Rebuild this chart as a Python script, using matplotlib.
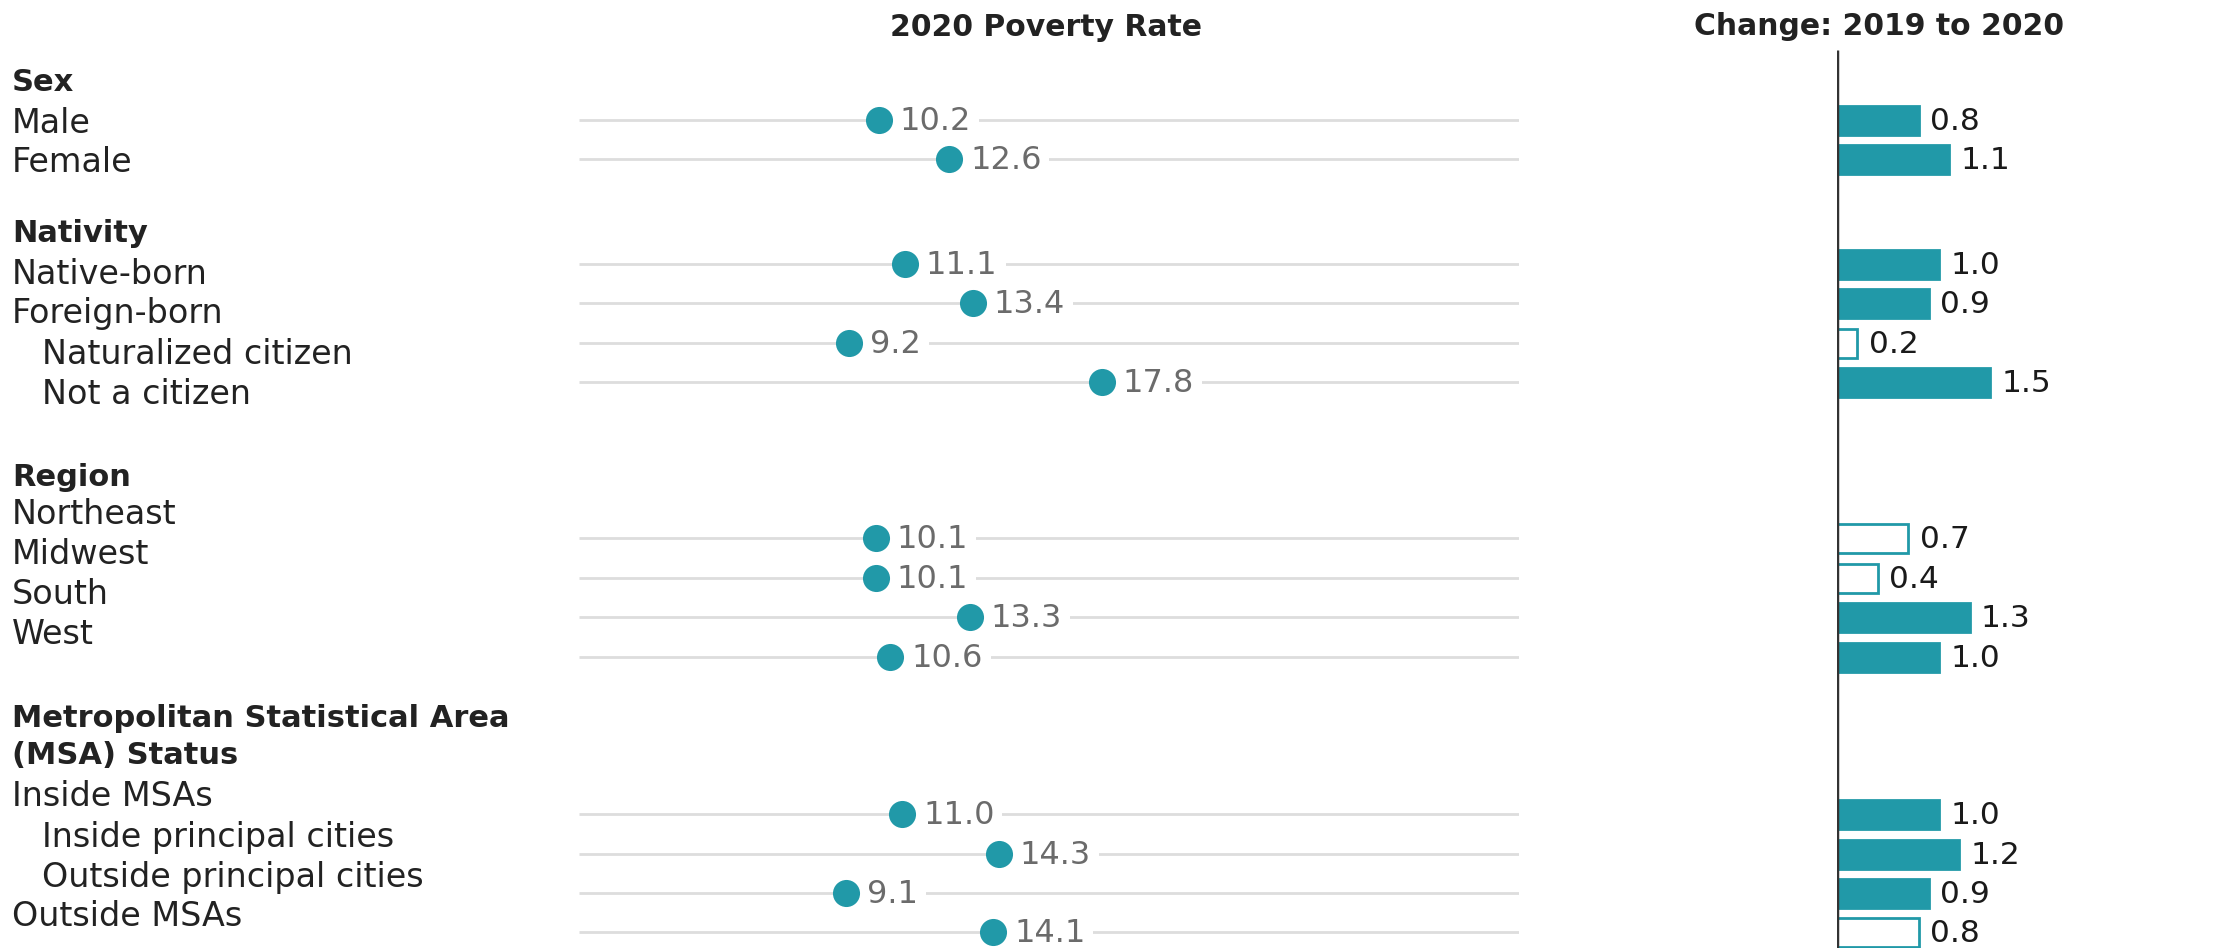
import matplotlib
matplotlib.use("Agg")
import matplotlib.pyplot as plt

plt.rcParams['font.family'] = ['DejaVu Sans']

# data
groups = ['Sex', 'Nativity', 'Region', 'Metropolitan Statistical Area\n(MSA) Status']
labels = ['Male', 'Female',
          'Native-born', 'Foreign-born', 'Naturalized citizen', 'Not a citizen',
          'Northeast', 'Midwest', 'South', 'West',
          'Inside MSAs', 'Inside principal cities', 'Outside principal cities', 'Outside MSAs']
indented = [False, False,
            False, False, True, True,
            False, False, False, False,
            False, True, True, False]
rate_2020 = [10.2, 12.6,
             11.1, 13.4, 9.2, 17.8,
             10.1, 10.1, 13.3, 10.6,
             11.0, 14.3, 9.1, 14.1]
change = [0.8, 1.1,
          1.0, 0.9, 0.2, 1.5,
          0.7, 0.4, 1.3, 1.0,
          1.0, 1.2, 0.9, 0.8]
significant = [True, True,
               True, True, False, True,
               False, False, True, True,
               True, True, True, False]

# layout (pixels from the top)
W, H = 2215, 948
group_y = [82, 233, 477, 737]
label_y = [123, 162, 274, 314, 354, 394, 515, 555, 595, 635, 797, 837, 877, 917]
row_y = [120, 159, 264, 303, 343, 382, 538, 578, 617, 657, 814, 854, 893, 932]

teal = '#2199a8'

fig = plt.figure(figsize=(W / 100, H / 100), dpi=100)

bg = fig.add_axes([0, 0, 1, 1])
bg.set_xlim(0, W)
bg.set_ylim(H, 0)
bg.axis('off')

for g, y in zip(groups, group_y):
    bg.text(12, y, g, fontsize=22, fontweight='bold', va='center', ha='left',
            color='#222222', linespacing=1.35)
for lab, y, ind in zip(labels, label_y, indented):
    bg.text(42 if ind else 12, y, lab, fontsize=24, va='center', ha='left', color='#222222')

bg.text(1046, 27, '2020 Poverty Rate', fontsize=21.5, fontweight='bold', ha='center',
        va='center', color='#222222')
bg.text(1879, 26, 'Change: 2019 to 2020', fontsize=21.5, fontweight='bold', ha='center',
        va='center', color='#222222')

# dot plot
x0, x1 = 579, 1519
ax = fig.add_axes([x0 / W, 0, (x1 - x0) / W, 1])
ax.set_xlim(0, 32)
ax.set_ylim(H, 0)
ax.axis('off')
ax.hlines(row_y, 0, 32, color='#dddddd', lw=2, zorder=1)
ax.plot(rate_2020, row_y, 'o', color=teal, ms=19.5, mew=0, zorder=3)
for v, y in zip(rate_2020, row_y):
    ax.annotate(f'{v:.1f}', (v, y), xytext=(15, -1), textcoords='offset points',
                fontsize=23, color='#6b6b6b', va='center', ha='left', zorder=2,
                bbox=dict(boxstyle='square,pad=0.25', fc='white', ec='none'))

# change bars
b0 = 1837
ax2 = fig.add_axes([b0 / W, 0, (W - b0) / W, 1])
ax2.set_xlim(0, (W - b0) / 102)
ax2.set_ylim(H, 0)
ax2.axis('off')
ax2.barh(row_y, change, height=29,
         color=[teal if s else 'white' for s in significant],
         edgecolor=teal, lw=2, zorder=2)
ax2.vlines(0, 50, H, color='#333333', lw=2.5, zorder=3)
for v, y in zip(change, row_y):
    ax2.annotate(f'{v:.1f}', (v, y), xytext=(8, -1), textcoords='offset points',
                 fontsize=22.5, color='#1a1a1a', va='center', ha='left')

fig.savefig('out.png', dpi=100)
